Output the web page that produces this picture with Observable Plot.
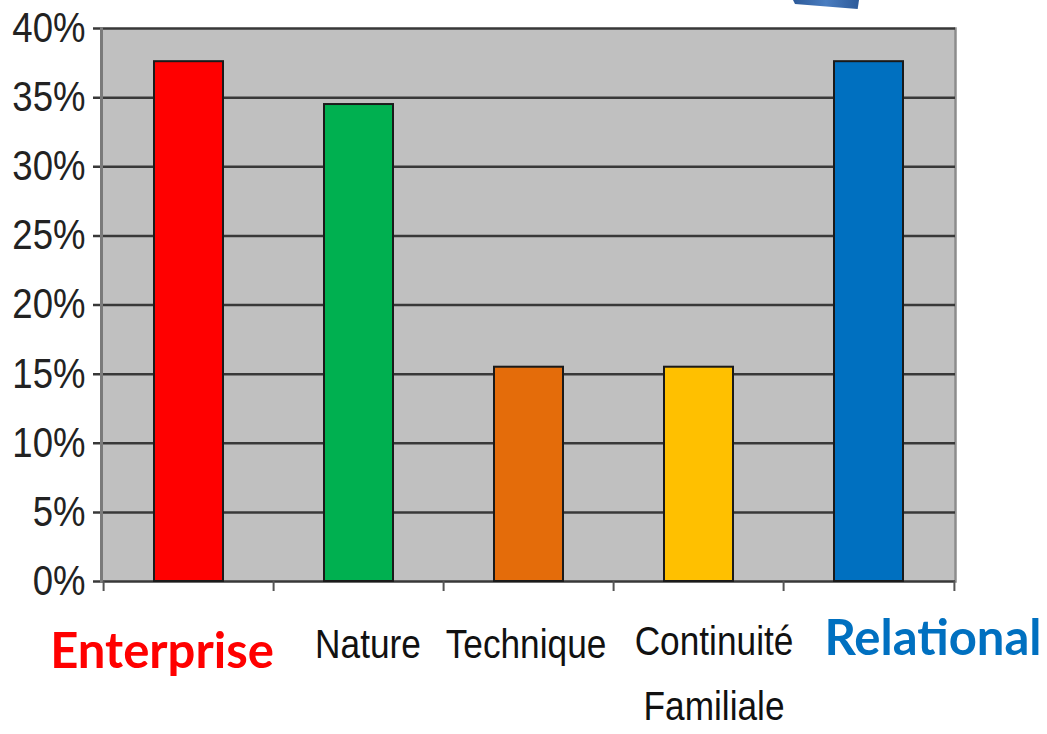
<!DOCTYPE html>
<html><head><meta charset="utf-8">
<script src="https://cdn.jsdelivr.net/npm/d3@7"></script>
<script src="https://cdn.jsdelivr.net/npm/@observablehq/plot@0.6"></script>
<style>
body{margin:0;background:#fff;}
#wrap{position:relative;width:1047px;height:734px;overflow:hidden;}
#arrow{position:absolute;left:793px;top:0;width:66px;height:9px;background:linear-gradient(90deg,#2d5a99,#4a7dc0,#2d5a99);clip-path:polygon(0 0,100% 0,98% 100%,3% 45%);}
</style></head><body><div id="wrap"><div id="arrow"></div></div>
<script>
const categories = ["Enterprise", "Nature", "Technique", "Continuité Familiale", "Relational"];
const labels = ["Enterprise", "Nature", "Technique", "Continuité\nFamiliale", "Relational"];
const values = [0.376, 0.345, 0.155, 0.155, 0.376];
const barColors = ["#FF0000", "#00B050", "#E46C0A", "#FFC000", "#0070C0"];
const yTicks = [0, 0.05, 0.10, 0.15, 0.20, 0.25, 0.30, 0.35, 0.40];

const W = 1047, H = 734, mL = 101, mR = 92, mT = 28, mB = 153;
const step = (W - mL - mR) / categories.length;
const data = categories.map((c, i) => ({cat: c, label: labels[i], value: values[i], color: barColors[i]}));
const sans = "'Liberation Sans',Arial,sans-serif";
const bold = "Lato,'Open Sans',sans-serif";

// label styling per category (kept out of the data arrays)
const labelStyle = {
  "Enterprise": {dx: -27, dy: 52, fill: "#FF0000", font: bold, weight: "bold", size: 49, lh: 1, cls: "lab-bold"},
  "Nature": {dx: 9, dy: 47, fill: "#111", font: sans, weight: "normal", size: 41, lh: 1, cls: "lab-narrow"},
  "Technique": {dx: -3, dy: 47, fill: "#111", font: sans, weight: "normal", size: 41, lh: 1, cls: "lab-narrow"},
  "Continuité Familiale": {dx: 15, dy: 27, fill: "#111", font: sans, weight: "normal", size: 41, lh: 1.585, cls: "lab-narrow"},
  "Relational": {dx: 64, dy: 39, fill: "#0070C0", font: bold, weight: "bold", size: 49, lh: 1, cls: "lab-bold"}
};

const labelMarks = data.map(d => {
  const s = labelStyle[d.cat];
  return Plot.text([d], {
    x: "cat", y: () => 0, text: "label", className: s.cls,
    dx: s.dx, dy: s.dy, fill: s.fill, fontFamily: s.font, fontWeight: s.weight, fontSize: s.size,
    lineAnchor: "top", lineHeight: s.lh, textAnchor: "middle"
  });
});

const chart = Plot.plot({
  width: W, height: H,
  marginLeft: mL, marginRight: mR, marginTop: mT, marginBottom: mB,
  style: {background: "transparent", fontFamily: sans, overflow: "visible", color: "#111"},
  x: {domain: categories, paddingInner: 0.595, paddingOuter: 0.2975, align: 0.5, axis: null},
  y: {domain: [0, 0.40], axis: null},
  color: {type: "identity"},
  marks: [
    Plot.frame({fill: "#C0C0C0", stroke: null}),
    Plot.frame({anchor: "right", stroke: "#8c8c8c", strokeWidth: 2.5}),
    Plot.ruleY(yTicks, {y: d => d, stroke: "#383838", strokeWidth: 2.5, insetLeft: -8}),
    Plot.frame({anchor: "left", stroke: "#7a7a7a", strokeWidth: 3}),
    Plot.axisY(yTicks, {tickSize: 0, tickPadding: 16, fontSize: 42, fill: "#222",
      tickFormat: d => Math.round(d * 100) + "%", label: null}),
    Plot.ruleX(categories, {x: d => d, dx: -step / 2, y1: 0, y2: 0, insetBottom: -10, stroke: "#555", strokeWidth: 2}),
    Plot.ruleX(categories.slice(-1), {x: d => d, dx: step / 2, y1: 0, y2: 0, insetBottom: -10, stroke: "#555", strokeWidth: 2}),
    Plot.barY(data, {x: "cat", y: "value", fill: "color", stroke: "#1a1a1a", strokeWidth: 2}),
    ...labelMarks
  ]
});

// condense the Arial-like texts horizontally (reference uses a narrow face)
function condense(sel, k) {
  chart.querySelectorAll(sel).forEach(t => {
    const tr = t.getAttribute("transform") || "";
    t.setAttribute("transform", tr + ` scale(${k},1)`);
  });
}
condense('g[aria-label="y-axis tick label"] text', 0.87);
condense('g.lab-narrow text', 0.86);
document.getElementById("wrap").appendChild(chart);
</script>
</body></html>
